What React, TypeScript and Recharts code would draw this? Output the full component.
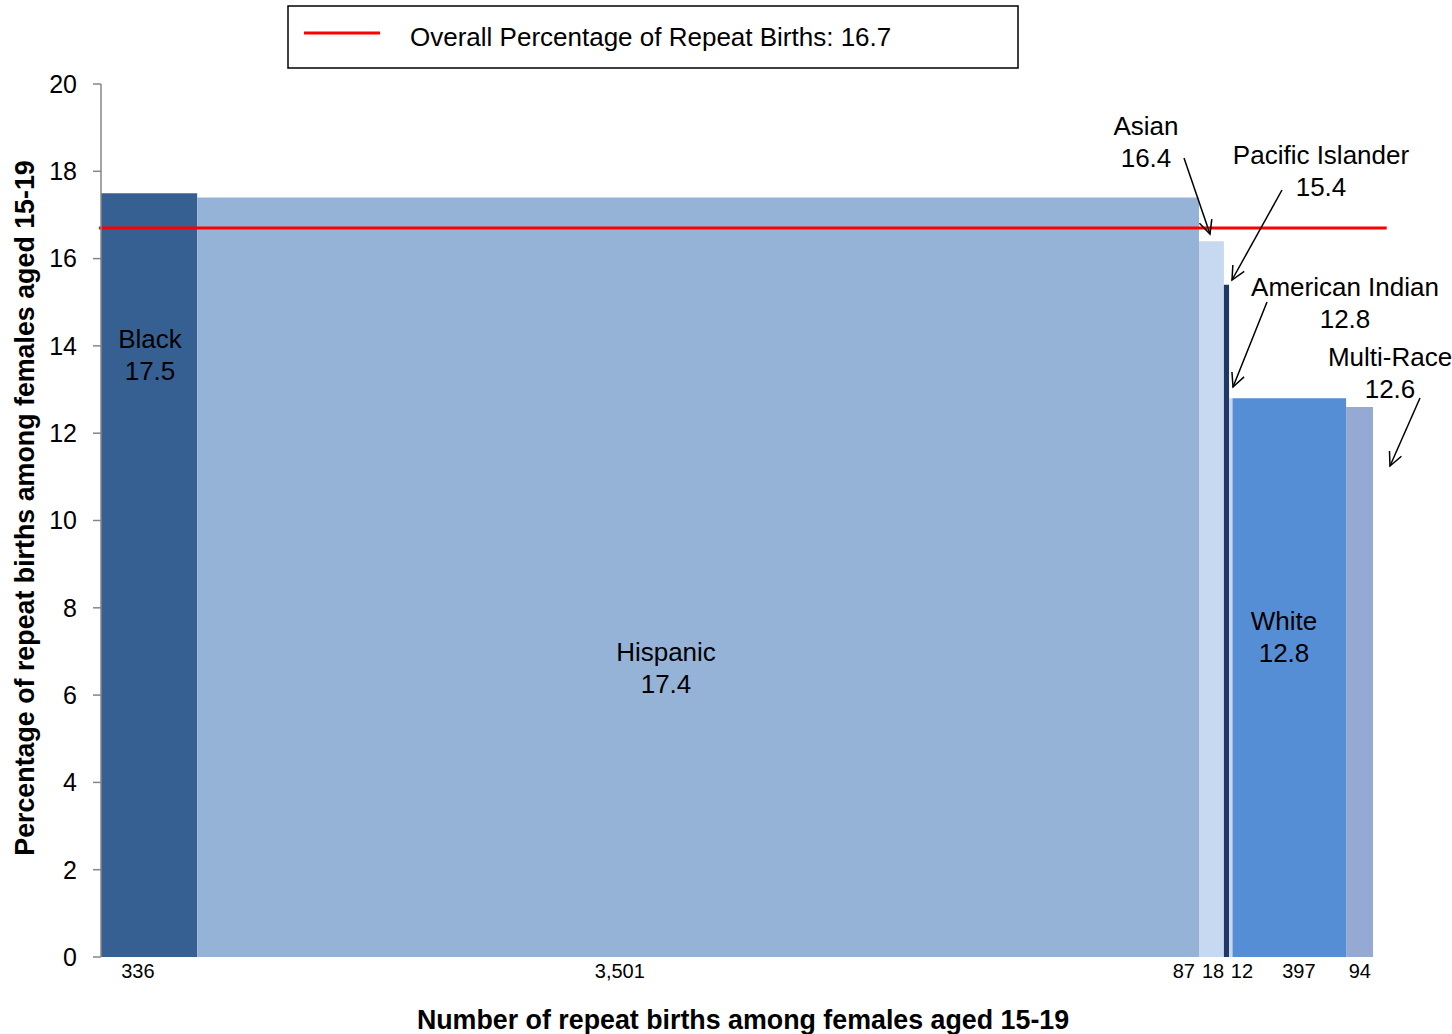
import React from 'react';
import { ComposedChart, XAxis, YAxis, ReferenceArea, ReferenceLine, Scatter } from 'recharts';

const categories = ['Black', 'Hispanic', 'Asian', 'Pacific Islander', 'American Indian', 'White', 'Multi-Race'];
const repeatBirths = [336, 3501, 87, 18, 12, 397, 94];
const repeatPct = [17.5, 17.4, 16.4, 15.4, 12.8, 12.8, 12.6];
const overallPct = 16.7;
const yTicks = [0, 2, 4, 6, 8, 10, 12, 14, 16, 18, 20];
// where the count labels sit along the x axis (same units as the counts)
const countLabelAt = [129, 1813, 3784, 3886, 3987, 4186, 4399];

const colors = ['#366092', '#95b3d7', '#c6d9f1', '#1f3864', '#c6d9f1', '#558ed5', '#95a9d3'];
const FONT = '"Liberation Sans", Arial, sans-serif';

const total = repeatBirths.reduce((a, b) => a + b, 0);
const starts: number[] = [];
repeatBirths.reduce((acc, v) => {
    starts.push(acc);
    return acc + v;
}, 0);

const points = categories.map((c, i) => ({ name: c, x: starts[i] + repeatBirths[i] / 2, y: repeatPct[i] }));

function Arrow({ x1, y1, x2, y2 }: { x1: number; y1: number; x2: number; y2: number }) {
    const ang = Math.atan2(y2 - y1, x2 - x1);
    const len = 15;
    const spread = 0.45;
    const a1 = ang + Math.PI - spread;
    const a2 = ang + Math.PI + spread;
    return (
        <g stroke="#000" strokeWidth={1.5} fill="none">
            <line x1={x1} y1={y1} x2={x2} y2={y2} />
            <polyline points={`${x2 + len * Math.cos(a1)},${y2 + len * Math.sin(a1)} ${x2},${y2} ${x2 + len * Math.cos(a2)},${y2 + len * Math.sin(a2)}`} />
        </g>
    );
}

function TwoLine({ x, y, i }: { x: number; y: number; i: number }) {
    return (
        <text x={x} y={y} textAnchor="middle" fontSize={26} fill="#000" fontFamily={FONT}>
            <tspan x={x}>{categories[i]}</tspan>
            <tspan x={x} dy={32}>{repeatPct[i].toFixed(1)}</tspan>
        </text>
    );
}

export default function App() {
    return (
        <div style={{ position: 'absolute', left: 0, top: 0, width: 1452, height: 1034, background: '#fff', fontFamily: FONT }}>
            <ComposedChart
                width={1452}
                height={1034}
                data={points}
                margin={{ top: 84, right: 79, bottom: 47, left: 41 }}
                style={{ fontFamily: FONT }}
            >
                <XAxis
                    type="number"
                    dataKey="x"
                    domain={[0, total]}
                    ticks={countLabelAt}
                    interval={0}
                    height={30}
                    axisLine={false}
                    tickLine={false}
                    tickSize={0}
                    tickMargin={7}
                    tick={{ fill: '#000', fontSize: 20 }}
                    tickFormatter={(_v: number, i: number) => repeatBirths[i].toLocaleString('en-US')}
                />
                <YAxis
                    type="number"
                    dataKey="y"
                    domain={[0, 20]}
                    ticks={yTicks}
                    interval={0}
                    width={60}
                    axisLine={{ stroke: '#868686', strokeWidth: 1.5 }}
                    tickLine={{ stroke: '#868686', strokeWidth: 1.5 }}
                    tickSize={8}
                    tickMargin={16}
                    tick={{ fill: '#000', fontSize: 25 }}
                />
                {categories.map((c, i) => (
                    <ReferenceArea
                        key={c}
                        x1={starts[i]}
                        x2={starts[i] + repeatBirths[i]}
                        y1={0}
                        y2={repeatPct[i]}
                        fill={colors[i]}
                        fillOpacity={1}
                        stroke="none"
                    />
                ))}
                <ReferenceLine
                    segment={[{ x: -7, y: overallPct }, { x: 4493, y: overallPct }]}
                    stroke="#ff0000"
                    strokeWidth={3}
                    ifOverflow="visible"
                />
                <Scatter dataKey="y" fill="none" stroke="none" isAnimationActive={false} legendType="none" />
            </ComposedChart>

            <svg width={1452} height={1034} style={{ position: 'absolute', left: 0, top: 0, pointerEvents: 'none' }}>
                {/* legend */}
                <rect x={288} y={6} width={730} height={62} fill="none" stroke="#000" strokeWidth={1.5} />
                <line x1={304} y1={33} x2={380} y2={33} stroke="#ff0000" strokeWidth={3} />
                <text x={410} y={46} fontSize={26} fill="#000" fontFamily={FONT}>
                    {`Overall Percentage of Repeat Births: ${overallPct}`}
                </text>

                {/* bar labels */}
                <TwoLine x={150} y={348} i={0} />
                <TwoLine x={666} y={661} i={1} />
                <TwoLine x={1284} y={630} i={5} />
                <TwoLine x={1146} y={135} i={2} />
                <TwoLine x={1321} y={164} i={3} />
                <TwoLine x={1345} y={296} i={4} />
                <TwoLine x={1390} y={366} i={6} />

                <Arrow x1={1184} y1={158} x2={1210} y2={234} />
                <Arrow x1={1282} y1={190} x2={1232} y2={280} />
                <Arrow x1={1267} y1={302} x2={1233} y2={387} />
                <Arrow x1={1420} y1={398} x2={1390} y2={466} />

                {/* axis titles */}
                <text
                    x={0}
                    y={0}
                    transform="translate(34 508) rotate(-90)"
                    textAnchor="middle"
                    fontSize={26.8}
                    fontWeight="bold"
                    fill="#000"
                    fontFamily={FONT}
                >
                    Percentage of repeat births among females aged 15-19
                </text>
                <text x={743} y={1029} textAnchor="middle" fontSize={26.8} fontWeight="bold" fill="#000" fontFamily={FONT}>
                    Number of repeat births among females aged 15-19
                </text>
            </svg>
        </div>
    );
}
